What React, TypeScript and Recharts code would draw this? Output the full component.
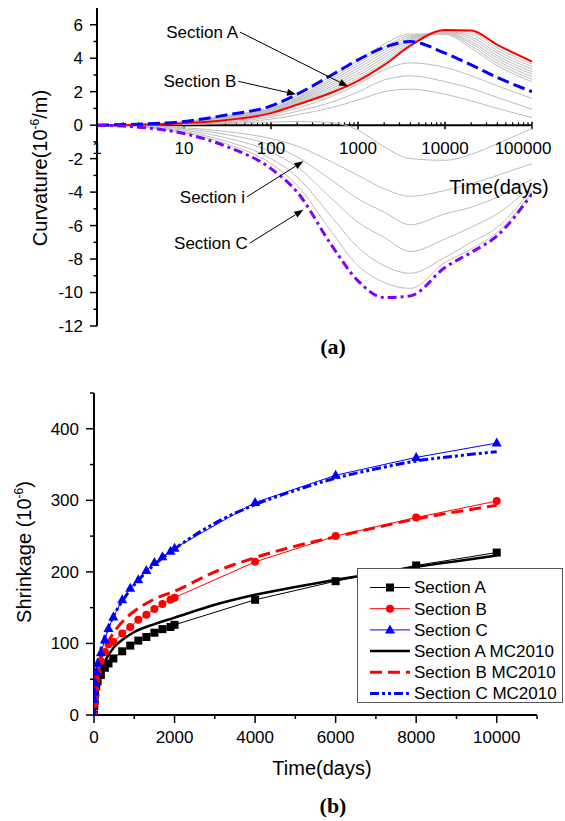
import React from 'react';
import { LineChart, Line, XAxis, YAxis, ReferenceLine, ReferenceDot, Legend } from 'recharts';

const FONT = '"Liberation Sans", Arial, sans-serif';

// ---------- (a) curvature of each section vs time (log axis) ----------
const times = [1, 3, 10, 30, 100, 200, 500, 1000, 2000, 4000, 10000, 20000, 40000, 100000];
const sectionA = [0, 0.03, 0.12, 0.3, 0.72, 1.22, 1.95, 2.65, 3.6, 4.75, 5.68, 5.65, 4.8, 3.8];
const sectionB = [0, 0.06, 0.22, 0.6, 1.15, 1.85, 3.0, 3.9, 4.65, 5.0, 4.3, 3.6, 2.85, 2.0];
const sectionC = [0, -0.12, -0.5, -1.25, -2.6, -4.0, -7.2, -9.3, -10.3, -10.2, -8.5, -7.6, -6.6, -4.1];

// the intermediate sections (thin grey curves)
const grayUpper = [
  [0, 0.03, 0.13, 0.33, 0.76, 1.29, 2.08, 2.8, 3.75, 4.85, 5.66, 5.55, 4.6, 3.65],
  [0, 0.04, 0.14, 0.36, 0.8, 1.35, 2.2, 2.95, 3.9, 4.95, 5.63, 5.42, 4.45, 3.5],
  [0, 0.04, 0.15, 0.39, 0.84, 1.41, 2.32, 3.1, 4.05, 5.05, 5.6, 5.28, 4.3, 3.35],
  [0, 0.04, 0.16, 0.42, 0.88, 1.47, 2.44, 3.25, 4.2, 5.12, 5.57, 5.15, 4.15, 3.2],
  [0, 0.05, 0.17, 0.45, 0.92, 1.53, 2.56, 3.4, 4.35, 5.2, 5.54, 5.0, 4.0, 3.05],
  [0, 0.05, 0.18, 0.48, 0.96, 1.59, 2.68, 3.55, 4.5, 5.28, 5.5, 4.88, 3.85, 2.9],
  [0, 0.05, 0.19, 0.51, 1.0, 1.66, 2.8, 3.7, 4.65, 5.36, 5.46, 4.74, 3.7, 2.75],
  [0, 0.06, 0.21, 0.56, 1.08, 1.78, 2.95, 3.85, 4.85, 5.45, 5.42, 4.6, 3.55, 2.6],
];
const grayLower = [
  [0, 0.02, 0.09, 0.24, 0.6, 1.02, 1.72, 2.45, 3.3, 3.72, 3.45, 2.95, 2.35, 1.6],
  [0, 0.02, 0.07, 0.19, 0.48, 0.83, 1.38, 1.98, 2.7, 2.95, 2.6, 2.2, 1.65, 0.95],
  [0, 0.01, 0.05, 0.14, 0.36, 0.62, 1.05, 1.5, 2.0, 2.15, 1.85, 1.45, 1.0, 0.45],
  [0, 0.01, 0.04, 0.1, 0.18, 0.22, 0.15, -0.3, -1.3, -2.0, -2.1, -1.75, -1.1, -0.2],
  [0, -0.04, -0.15, -0.38, -0.8, -1.25, -2.2, -3.0, -3.8, -4.25, -3.9, -3.5, -3.0, -2.3],
  [0, -0.05, -0.22, -0.55, -1.2, -1.9, -3.3, -4.4, -5.2, -5.95, -5.3, -4.9, -4.3, -3.2],
  [0, -0.07, -0.3, -0.75, -1.6, -2.5, -4.4, -5.8, -6.7, -7.55, -6.8, -6.1, -5.3, -3.6],
  [0, -0.09, -0.38, -0.95, -2.0, -3.1, -5.5, -7.3, -8.4, -8.85, -7.9, -7.0, -6.1, -3.8],
  [0, -0.11, -0.45, -1.1, -2.3, -3.6, -6.4, -8.4, -9.4, -9.75, -8.2, -7.4, -6.4, -4.0],
];
const graySections = [...grayUpper, ...grayLower];

const curvTicks = [-12, -11, -10, -9, -8, -7, -6, -5, -4, -3, -2, -1, 0, 1, 2, 3, 4, 5, 6];
const decadeTicks = [1, 10, 100, 1000, 10000, 100000];
const minorLogTicks = decadeTicks.slice(0, -1).flatMap((d) => [2, 3, 4, 5, 6, 7, 8, 9].map((m) => m * d));

// arrows + their labels, in data units (time, curvature)
const annotations = [
  { text: 'Section A', from: [44, 5.56], to: [767, 2.32] },
  { text: 'Section B', from: [42, 2.62], to: [194, 1.84] },
  { text: 'Section i', from: [53, -4.28], to: [235, -2.16] },
  { text: 'Section C', from: [57, -7.05], to: [235, -5.06] },
];

const curvatureRows = times.map((t, i) => {
  const row: Record<string, number> = { t, A: sectionA[i], B: sectionB[i], C: sectionC[i] };
  graySections.forEach((s, k) => {
    row['g' + k] = s[i];
  });
  return row;
});

// ---------- (b) shrinkage vs time ----------
const testDays = [0, 7, 14, 28, 56, 90, 170, 270, 360, 480, 700, 900, 1100, 1300, 1500, 1700, 1900, 2000, 4000, 6000, 8000, 10000];
const shrinkA = [0, 12, 20, 30, 40, 47, 56, 66, 72, 79, 89, 97, 104, 109, 115, 120, 123, 126, 161, 187, 209, 227];
const shrinkB = [0, 15, 25, 36, 50, 60, 75, 88, 99, 102, 114, 123, 133, 140, 148, 155, 161, 164, 214, 250, 276, 299];
const shrinkC = [0, 22, 32, 45, 60, 72, 87, 105, 121, 137, 161, 177, 189, 202, 213, 221, 229, 233, 297, 335, 360, 380];

const modelDays = [0, 10, 30, 60, 100, 200, 300, 500, 750, 1000, 1500, 2000, 3000, 4000, 5000, 6000, 7000, 8000, 9000, 10000];
const mcA = [0, 14, 28, 40, 50, 67, 78, 95, 107, 116, 127, 136, 154, 168, 179, 189, 198, 207, 215, 223];
const mcB = [0, 17, 35, 50, 62, 84, 97, 116, 133, 145, 162, 173, 200, 220, 236, 249, 262, 274, 284, 293];
const mcC = [0, 25, 45, 62, 76, 98, 115, 140, 163, 182, 210, 232, 268, 294, 314, 331, 344, 355, 362, 368];

const dayTicks = [0, 1000, 2000, 3000, 4000, 5000, 6000, 7000, 8000, 9000, 10000, 11000];
const shrinkTicks = [0, 50, 100, 150, 200, 250, 300, 350, 400, 450];

const shrinkSeries = [
  { name: 'Section A', days: testDays, values: shrinkA, color: '#000000', width: 1, dash: undefined, marker: 'square' },
  { name: 'Section B', days: testDays, values: shrinkB, color: '#FF0000', width: 1, dash: undefined, marker: 'circle' },
  { name: 'Section C', days: testDays, values: shrinkC, color: '#0000FF', width: 1, dash: undefined, marker: 'triangle' },
  { name: 'Section A MC2010', days: modelDays, values: mcA, color: '#000000', width: 2.5, dash: undefined, marker: null },
  { name: 'Section B MC2010', days: modelDays, values: mcB, color: '#FF0000', width: 3, dash: '12 6', marker: null },
  { name: 'Section C MC2010', days: modelDays, values: mcC, color: '#0000FF', width: 3, dash: '9 3 3 3 3 3', marker: null },
];

const renderMarker = (kind: string | null, cx: number, cy: number, color: string, key?: any) => {
  if (kind === 'square') return <rect key={key} x={cx - 4} y={cy - 4} width={8} height={8} fill={color} />;
  if (kind === 'circle') return <circle key={key} cx={cx} cy={cy} r={4} fill={color} />;
  if (kind === 'triangle')
    return <polygon key={key} points={`${cx},${cy - 5.5} ${cx - 5},${cy + 3.5} ${cx + 5},${cy + 3.5}`} fill={color} />;
  return null;
};

// custom ticks so minor ticks are half length and unlabeled
const LeftTick = ({ x, y, payload, size, gap, every }: any) => {
  const ax = x + size + gap;
  const major = payload.value % every === 0;
  return (
    <g>
      <line x1={ax} x2={ax - (major ? size : size / 2)} y1={y} y2={y} stroke="#000" strokeWidth={1.5} />
      {major && (
        <text x={x} y={y} dy="0.35em" textAnchor="end" fontSize={17} fill="#000">
          {payload.value}
        </text>
      )}
    </g>
  );
};

const BottomTick = ({ x, y, payload, size, gap, every }: any) => {
  const ay = y - size - gap;
  const major = payload.value % every === 0;
  return (
    <g>
      <line x1={x} x2={x} y1={ay} y2={ay + (major ? size : size / 2)} stroke="#000" strokeWidth={1.5} />
      {major && (
        <text x={x} y={y} dy="0.71em" textAnchor="middle" fontSize={17} fill="#000">
          {payload.value}
        </text>
      )}
    </g>
  );
};

const arrowShape = (p: any) => {
  const { x1, y1, x2, y2 } = p;
  const a = Math.atan2(y2 - y1, x2 - x1);
  const L = 9;
  const W = 3.5;
  const bx = x2 - L * Math.cos(a);
  const by = y2 - L * Math.sin(a);
  const px = -Math.sin(a) * W;
  const py = Math.cos(a) * W;
  return (
    <g>
      <line x1={x1} y1={y1} x2={bx} y2={by} stroke="#000" strokeWidth={1} />
      <polygon points={`${x2},${y2} ${bx + px},${by + py} ${bx - px},${by - py}`} fill="#000" />
    </g>
  );
};

const ShrinkLegend = () => (
  <svg width={206} height={135} style={{ display: 'block' }}>
    <rect x={0.5} y={0.5} width={205} height={134} fill="#fff" stroke="#555" />
    {shrinkSeries.map((s, i) => {
      const cy = 19.5 + i * 21.2;
      return (
        <g key={s.name}>
          <line x1={13} x2={53} y1={cy} y2={cy} stroke={s.color} strokeWidth={s.width} strokeDasharray={s.dash} />
          {renderMarker(s.marker, 33, cy, s.color)}
          <text x={57} y={cy} dy="0.35em" fontSize={17} fill="#000">
            {s.name}
          </text>
        </g>
      );
    })}
  </svg>
);

const Text = ({ x, y, rotate, style, children }: any) => (
  <div
    style={{
      position: 'absolute',
      left: x,
      top: y,
      transform: `translate(-50%, -50%)${rotate ? ' rotate(-90deg)' : ''}`,
      whiteSpace: 'nowrap',
      lineHeight: 1,
      fontSize: 20,
      ...style,
    }}
  >
    {children}
  </div>
);

const Sup = ({ children }: any) => (
  <span style={{ fontSize: 12, position: 'relative', top: -8 }}>{children}</span>
);

const panelLabel = { fontFamily: '"Liberation Serif", "Times New Roman", serif', fontWeight: 'bold', fontSize: 22 };

const App = () => {
  return (
    <div style={{ position: 'absolute', left: 0, top: 0, width: 565, height: 821, background: '#fff', fontFamily: FONT, color: '#000' }}>
      {/* (a) */}
      <div style={{ position: 'absolute', left: 0, top: 0 }}>
        <LineChart width={565} height={340} data={curvatureRows} margin={{ top: 8, right: 33, bottom: 14, left: 37 }}>
          <XAxis dataKey="t" type="number" scale="log" domain={[1, 100000]} allowDataOverflow hide />
          <YAxis
            type="number"
            domain={[-12, 7]}
            ticks={curvTicks}
            interval={0}
            width={60}
            allowDataOverflow
            axisLine={{ stroke: '#000', strokeWidth: 2 }}
            tickLine={false}
            tickSize={7}
            tickMargin={7}
            tick={(p: any) => <LeftTick {...p} size={7} gap={7} every={2} />}
          />
          <ReferenceLine y={0} stroke="#000" strokeWidth={2} />
          {decadeTicks.map((t) => (
            <ReferenceLine key={'M' + t} segment={[{ x: t, y: -0.24 }, { x: t, y: 0.2 }]} stroke="#000" strokeWidth={1.5} />
          ))}
          {minorLogTicks.map((t) => (
            <ReferenceLine key={'m' + t} segment={[{ x: t, y: 0 }, { x: t, y: 0.17 }]} stroke="#000" strokeWidth={1.2} />
          ))}
          {graySections.map((_, k) => (
            <Line key={k} dataKey={'g' + k} type="monotone" stroke="#BDBDBD" strokeWidth={1} dot={false} isAnimationActive={false} />
          ))}
          <Line dataKey="A" type="monotone" stroke="#FF0000" strokeWidth={2} dot={false} isAnimationActive={false} />
          <Line dataKey="B" type="monotone" stroke="#0000FF" strokeWidth={3} strokeDasharray="12 5" dot={false} isAnimationActive={false} />
          <Line dataKey="C" type="monotone" stroke="#7F00FF" strokeWidth={3} strokeDasharray="9 4 3 4" dot={false} isAnimationActive={false} />
          {decadeTicks.map((t) => (
            <ReferenceDot
              key={'l' + t}
              x={t}
              y={0}
              r={0}
              fill="none"
              stroke="none"
              label={{ value: String(t), position: 'bottom', offset: 17, fontSize: 17, fill: '#000', dx: t === 100000 ? -9 : 0 }}
            />
          ))}
          {annotations.map((a) => (
            <ReferenceLine
              key={'arrow' + a.text}
              segment={[{ x: a.from[0], y: a.from[1] }, { x: a.to[0], y: a.to[1] }]}
              shape={arrowShape}
            />
          ))}
          {annotations.map((a) => (
            <ReferenceDot
              key={'txt' + a.text}
              x={a.from[0]}
              y={a.from[1]}
              r={0}
              fill="none"
              stroke="none"
              label={{ value: a.text, position: 'left', offset: 2, fontSize: 17, fill: '#000' }}
            />
          ))}
        </LineChart>
      </div>

      {/* (b) */}
      <div style={{ position: 'absolute', left: 0, top: 370 }}>
        <LineChart width={565} height={390} margin={{ top: 23, right: 28, bottom: 15, left: 34 }}>
          <XAxis
            dataKey="t"
            type="number"
            domain={[0, 11000]}
            ticks={dayTicks}
            interval={0}
            height={30}
            allowDataOverflow
            axisLine={{ stroke: '#000', strokeWidth: 2 }}
            tickLine={false}
            tickSize={8}
            tickMargin={8}
            tick={(p: any) => <BottomTick {...p} size={8} gap={8} every={2000} />}
          />
          <YAxis
            type="number"
            domain={[0, 450]}
            ticks={shrinkTicks}
            interval={0}
            width={60}
            allowDataOverflow
            axisLine={{ stroke: '#000', strokeWidth: 2 }}
            tickLine={false}
            tickSize={8}
            tickMargin={7}
            tick={(p: any) => <LeftTick {...p} size={8} gap={7} every={100} />}
          />
          {shrinkSeries.map((s) => (
            <Line
              key={s.name}
              name={s.name}
              data={s.days.map((t, i) => ({ t, v: s.values[i] }))}
              dataKey="v"
              type={s.marker ? 'linear' : 'monotone'}
              stroke={s.color}
              strokeWidth={s.width}
              strokeDasharray={s.dash}
              dot={s.marker ? (p: any) => renderMarker(s.marker, p.cx, p.cy, s.color, p.index) : false}
              activeDot={false}
              isAnimationActive={false}
            />
          ))}
          <Legend
            layout="vertical"
            align="center"
            verticalAlign="middle"
            wrapperStyle={{ left: 357, top: 198, width: 206, height: 135 }}
            content={() => <ShrinkLegend />}
          />
        </LineChart>
      </div>

      {/* axis titles and panel labels */}
      <Text x={40} y={168} rotate>
        Curvature(10<Sup>-6</Sup>/m)
      </Text>
      <Text x={499} y={187}>Time(days)</Text>
      <Text x={333} y={347} style={panelLabel}>
        (a)
      </Text>
      <Text x={24} y={552} rotate>
        Shrinkage (10<Sup>-6</Sup>)
      </Text>
      <Text x={322} y={768}>Time(days)</Text>
      <Text x={333} y={806} style={panelLabel}>
        (b)
      </Text>
    </div>
  );
};

export default App;
